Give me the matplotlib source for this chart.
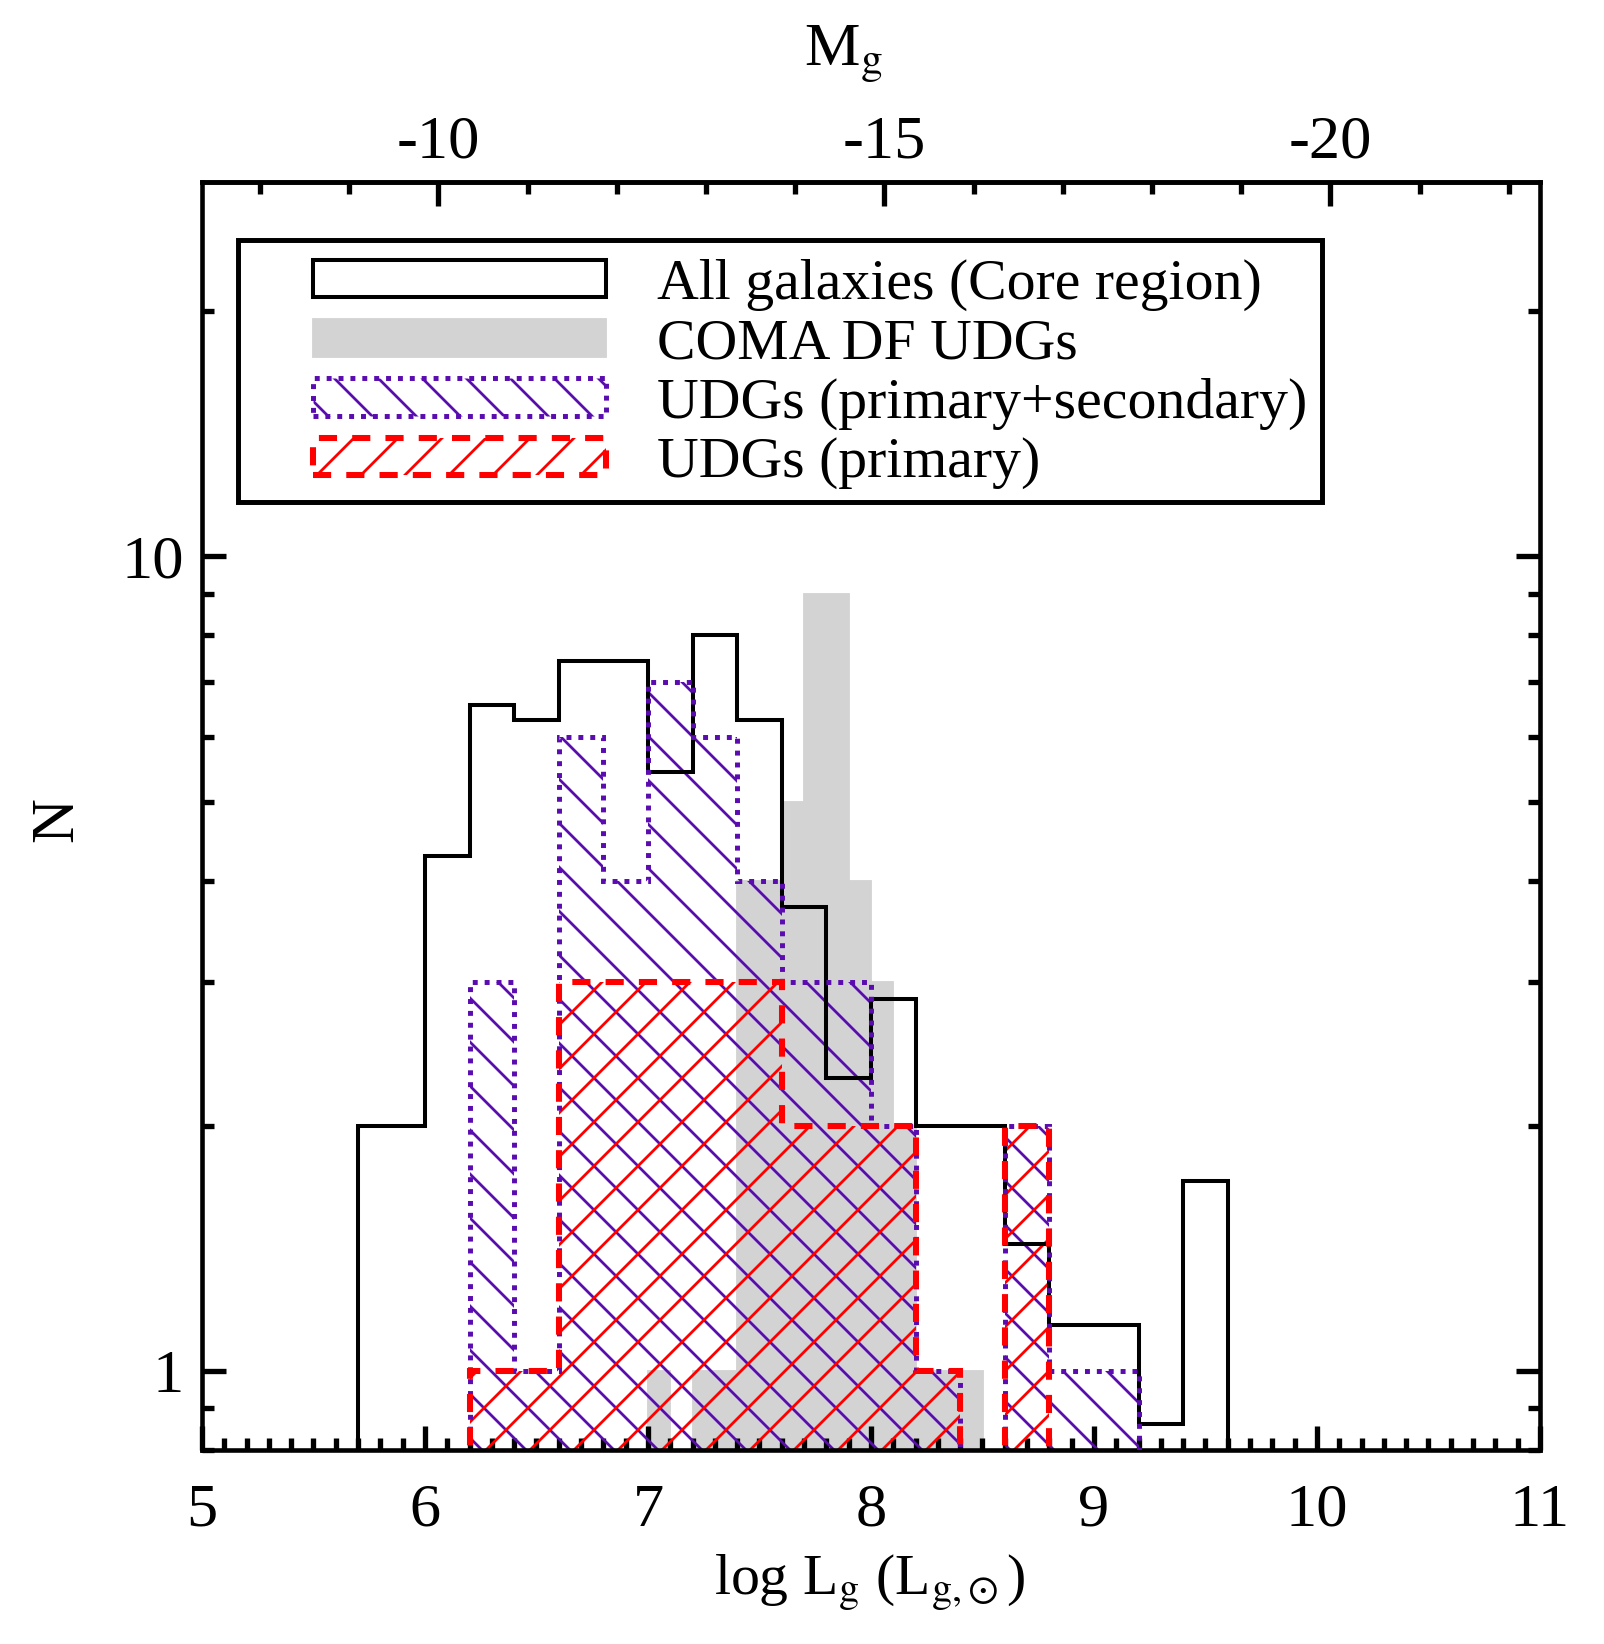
import numpy as np
import matplotlib
matplotlib.use('Agg')
import matplotlib.pyplot as plt
from matplotlib.patches import Patch, Rectangle
from matplotlib.ticker import FixedLocator, NullFormatter, FuncFormatter

# ---------------- data ----------------
# All galaxies (core region)
edges_all = [5.7, 6.0, 6.2, 6.4, 6.6, 6.8, 7.0, 7.2, 7.4, 7.6, 7.8, 8.0,
             8.2, 8.4, 8.6, 8.8, 9.0, 9.2, 9.4, 9.6]
n_all = [2.00, 4.29, 6.57, 6.29, 7.43, 7.43, 5.43, 8.00, 6.29, 3.71, 2.29,
         2.86, 2.00, 2.00, 1.43, 1.14, 1.14, 0.86, 1.71]

# COMA DF UDGs
edges_coma = [7.0, 7.1, 7.2, 7.3, 7.4, 7.5, 7.6, 7.7, 7.8, 7.9, 8.0, 8.1,
              8.2, 8.3, 8.4, 8.5]
n_coma = [1, 0, 1, 1, 4, 4, 5, 9, 9, 4, 3, 2, 1, 1, 1]

# UDGs (primary+secondary)
edges_udg_ps = [6.2, 6.4, 6.6, 6.8, 7.0, 7.2, 7.4, 7.6, 7.8, 8.0, 8.2, 8.4,
                8.6, 8.8, 9.0, 9.2]
n_udg_ps = [3, 1, 6, 4, 7, 6, 4, 3, 3, 2, 1, 0, 2, 1, 1]

# UDGs (primary)
edges_udg_p = [6.2, 6.4, 6.6, 6.8, 7.0, 7.2, 7.4, 7.6, 7.8, 8.0, 8.2, 8.4,
               8.6, 8.8]
n_udg_p = [1, 1, 3, 3, 3, 3, 3, 2, 2, 2, 1, 0, 2]

legend_labels = ['All galaxies (Core region)', 'COMA DF UDGs',
                 'UDGs (primary+secondary)', 'UDGs (primary)']

x_major = [5, 6, 7, 8, 9, 10, 11]
y_major = [1, 10]
y_minor = [0.8, 0.9, 2, 3, 4, 5, 6, 7, 8, 9, 20]
mg_major = [-10, -15, -20]
mg_minor = [-8, -9, -11, -12, -13, -14, -16, -17, -18, -19, -21, -22]
M_SUN_G = 5.15

# ---------------- style ----------------
plt.rcParams['font.family'] = ['Liberation Serif', 'DejaVu Serif']
plt.rcParams['mathtext.fontset'] = 'stix'
plt.rcParams['hatch.linewidth'] = 1.5

DPI = 132
W, H = 1604, 1644
GRAY = '#d3d3d3'
PURPLE = '#5a0cb0'
RED = '#ff0000'
FS = 34
LW_AX = 2.5

fig = plt.figure(figsize=(W / DPI, H / DPI), dpi=DPI)
ax = fig.add_axes([202 / W, 1 - 1450 / H, 1338 / W, 1268 / H])
ax.set_yscale('log')

# ---------------- histograms ----------------
ax.stairs(n_coma, edges_coma, fill=True, facecolor=GRAY, edgecolor=GRAY,
          lw=1.0, zorder=1)
ax.stairs(n_udg_ps, edges_udg_ps, fill=True, facecolor='none',
          edgecolor=PURPLE, hatch='\\', lw=0, zorder=2)
ax.stairs(n_udg_p, edges_udg_p, fill=True, facecolor='none',
          edgecolor=RED, hatch='/', lw=0, zorder=2.1)
ax.stairs(n_all, edges_all, color='black', lw=2.2, zorder=3)
ax.stairs(n_udg_ps, edges_udg_ps, color=PURPLE, lw=2.7,
          linestyle=(0, (1, 1.4)), zorder=4)
ax.stairs(n_udg_p, edges_udg_p, color=RED, lw=3.3,
          linestyle=(0, (3, 2.5)), zorder=5)

ax.set_xlim(5, 11)
ax.set_ylim(0.8, 28.8)

# ---------------- ticks ----------------
ax.xaxis.set_major_locator(FixedLocator(x_major))
ax.xaxis.set_minor_locator(FixedLocator(np.arange(5.0, 11.001, 0.1)))
ax.yaxis.set_major_locator(FixedLocator(y_major))
ax.yaxis.set_minor_locator(FixedLocator(y_minor))
ax.yaxis.set_major_formatter(FuncFormatter(lambda v, p: f'{v:g}'))
ax.yaxis.set_minor_formatter(NullFormatter())
ax.xaxis.set_major_formatter(FuncFormatter(lambda v, p: f'{v:g}'))

ax.tick_params(which='both', direction='in', top=False, right=True,
               width=2.9, labelsize=FS)
ax.tick_params(which='major', length=13)
ax.tick_params(which='minor', length=6.3)
ax.tick_params(axis='x', which='major', pad=18)
ax.tick_params(axis='y', which='major', pad=10)
for s in ax.spines.values():
    s.set_linewidth(LW_AX)

sec = ax.secondary_xaxis('top', functions=(lambda L: M_SUN_G - 2.5 * L,
                                           lambda M: (M_SUN_G - M) / 2.5))
sec.xaxis.set_major_locator(FixedLocator(mg_major))
sec.xaxis.set_minor_locator(FixedLocator(mg_minor))
sec.xaxis.set_major_formatter(FuncFormatter(lambda v, p: f'{v:g}'))
sec.tick_params(which='both', direction='in', width=2.9, labelsize=FS)
sec.tick_params(which='major', length=13, pad=6)
sec.tick_params(which='minor', length=6.3)
sec.spines['top'].set_linewidth(LW_AX)

# ---------------- labels ----------------
fig.text(870 / W, 1 - 1594 / H, r'log L$_{\rm g}$ (L$_{\rm g{,}\odot}$)',
         ha='center', va='baseline', fontsize=31.5)
fig.text(843 / W, 1 - 65 / H, r'M$_{\rm g}$', ha='center', va='baseline',
         fontsize=FS)
fig.text(57 / W, 1 - 820 / H, 'N', rotation=90, ha='center', va='center',
         fontsize=FS)

# ---------------- legend ----------------
handles = [
    Patch(facecolor='white', edgecolor='black', lw=2.2),
    Patch(facecolor=GRAY, edgecolor=GRAY, lw=1.0),
    Patch(facecolor='none', edgecolor=PURPLE, hatch='\\', lw=2.7,
          linestyle=(0, (1, 1.4))),
    Patch(facecolor='none', edgecolor=RED, hatch='/', lw=3.3,
          linestyle=(0, (3, 2.5))),
]
ax.legend(handles, legend_labels, loc='upper left',
          bbox_to_anchor=(0.083, 0.9395), frameon=False, fontsize=31.5,
          handlelength=5.07, handleheight=0.62, handletextpad=0.88,
          labelspacing=0.125, borderpad=0, borderaxespad=0)
ax.add_patch(Rectangle((0.0269, 0.748), 0.810, 0.2066, transform=ax.transAxes,
                       fill=False, edgecolor='black', lw=2.7, zorder=6,
                       clip_on=False))

fig.savefig('out.png', dpi=DPI)
